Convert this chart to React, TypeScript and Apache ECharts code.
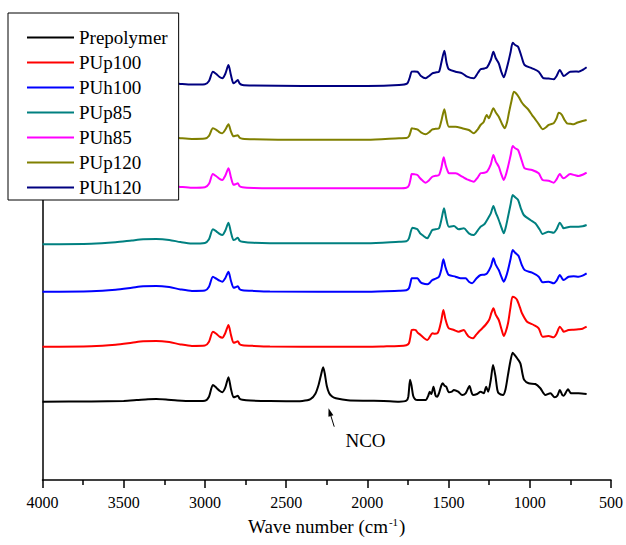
import React, { useEffect, useRef } from "react";
import * as echarts from "echarts";

// Series names and colours
const seriesNames = ["Prepolymer", "PUp100", "PUh100", "PUp85", "PUh85", "PUp120", "PUh120"];
const seriesColors = ["#000000", "#FF0000", "#0000FF", "#008080", "#FF00FF", "#808000", "#000080"];
// vertical stacking offset of each spectrum (a.u.)
const offsets = [78.3, 133.3, 188.3, 235.7, 291.7, 340.7, 395];

// x ticks
const xMin = 500;
const xMax = 4000;
const xInterval = 500;

// [wavenumber (cm-1), absorbance (a.u.)]
const prepolymer = [[4000,0],[3700,0.2],[3500,0.8],[3420,1.6],[3350,2.4],[3300,2.7],[3240,2.2],[3170,1.2],[3080,0.6],[3000,1],[2975,5],[2951,16.7],[2930,14],[2910,11],[2893,9.5],[2875,14],[2855,24.4],[2840,13],[2824,4.5],[2812,5],[2798,6],[2786,3],[2769,2],[2720,1.2],[2600,0.6],[2500,0.5],[2400,0.8],[2350,2.5],[2320,8],[2300,17],[2285,27],[2272,34.5],[2262,28],[2250,16],[2235,8.5],[2215,5],[2194,3.5],[2120,1.5],[2000,1],[1900,0.8],[1805,0],[1760,1],[1748,5],[1737,22],[1728,16],[1718,6],[1706,2.5],[1692,1.7],[1641,1.7],[1625,6],[1616,10],[1606,7.7],[1593,15],[1580,6],[1570,5],[1559,8.4],[1545,16],[1536,18.4],[1525,16],[1514,15],[1498,9.4],[1480,10],[1467,11.7],[1441,10],[1416,6.7],[1395,8.4],[1378,14],[1371,15.7],[1360,10],[1350,6.7],[1324,7.7],[1303,10],[1283,8.4],[1269,15],[1256,10],[1240,22],[1226,36.7],[1212,26],[1200,12],[1191,8.4],[1165,6.7],[1150,12],[1135,26],[1120,40],[1105,49],[1090,46],[1078,43.4],[1058,38.4],[1045,28],[1035,22],[1007,18.4],[966,17.7],[935,13.4],[904,6.7],[873,8.4],[847,4.4],[830,6],[815,11.7],[800,6.7],[792,6],[772,11],[765,12.4],[750,9],[741,8.4],[720,8.4],[700,8.4],[650,7.7]];
const pup100 = [[4000,0],[3700,0.5],[3550,2],[3450,4],[3380,5.5],[3300,5.7],[3220,4.6],[3150,2.3],[3080,0.8],[3000,1.2],[2975,5],[2951,15],[2930,13],[2910,10],[2893,9],[2875,13.5],[2855,21.7],[2840,12],[2824,4],[2812,4.5],[2798,5.5],[2786,2.5],[2769,1.5],[2700,0.8],[2600,0.2],[2200,0],[2000,0],[1900,0.3],[1805,0.7],[1760,1.5],[1744,3.4],[1735,10],[1727,16.7],[1715,17],[1703,16.7],[1690,14],[1672,11.7],[1650,8.5],[1631,6.7],[1615,10],[1600,13.4],[1585,13],[1569,13.4],[1559,16.7],[1545,26],[1532,36.7],[1520,28],[1505,20],[1498,18.4],[1467,16.7],[1437,15],[1406,16.7],[1390,13],[1375,10],[1350,8.4],[1330,12],[1314,15],[1295,18],[1273,21.7],[1250,27],[1236,34],[1224,38.4],[1210,32],[1191,26.7],[1175,18],[1160,10.7],[1148,15],[1134,23.4],[1120,38],[1106,50],[1090,49],[1078,46.7],[1060,39],[1048,33.4],[1017,25],[976,21.7],[945,18.4],[921,10],[884,10.7],[853,9.4],[835,13],[815,20],[800,17],[792,15],[761,16.7],[730,17],[700,17.4],[675,18],[650,20]];
const puh100 = [[4000,0],[3700,0.5],[3550,2],[3450,4],[3380,5.5],[3300,5.7],[3220,4.6],[3150,2.3],[3080,0.8],[3000,1.2],[2975,5],[2951,15],[2930,13],[2910,11],[2893,10],[2875,13.5],[2855,20],[2840,11],[2824,4],[2812,4.5],[2798,5.5],[2786,2.5],[2769,1.5],[2700,0.8],[2600,0.2],[2000,0],[1805,1],[1760,1.5],[1744,3.4],[1733,10],[1727,13.4],[1710,13.5],[1692,13.4],[1675,10],[1662,8.4],[1631,7.4],[1615,9],[1600,11.7],[1580,13],[1559,15],[1545,22],[1532,32.4],[1520,25],[1505,18],[1498,16.7],[1457,15],[1426,13.4],[1395,13.4],[1375,10],[1355,8.4],[1330,13],[1303,16.7],[1280,17],[1263,18.4],[1240,25],[1224,33.4],[1210,27],[1191,21.7],[1175,15],[1160,10],[1148,14],[1134,21.7],[1118,33],[1105,41.7],[1090,39],[1069,35.7],[1050,27],[1032,21.7],[986,19],[945,15],[921,9.4],[884,10],[853,8.4],[835,11],[815,16.7],[800,13],[792,11.7],[761,15],[730,15.5],[700,15],[675,16],[650,18.4]];
const pup85 = [[4000,0],[3700,0.5],[3550,2],[3450,3.8],[3380,5],[3300,5.3],[3220,4.4],[3150,2.2],[3080,0.8],[3000,1.4],[2975,5],[2951,15],[2930,13],[2910,10.5],[2893,9.3],[2875,13.5],[2855,21.6],[2840,12],[2824,4.3],[2812,5],[2798,6.6],[2786,3.5],[2769,2.6],[2700,1.5],[2600,1],[2000,1],[1805,2.6],[1760,3],[1744,6],[1732,13],[1723,16.6],[1708,16],[1692,15],[1675,11],[1662,9.3],[1631,6],[1615,10],[1600,14.3],[1580,15],[1559,16],[1545,24],[1528,36],[1515,26],[1498,17.6],[1467,18.3],[1437,15],[1406,16],[1375,11],[1345,9.3],[1320,14],[1303,17.6],[1280,20],[1263,24.3],[1240,31],[1224,38.3],[1210,32],[1191,24.3],[1175,17],[1160,11],[1148,17],[1134,27.6],[1118,40],[1105,49.3],[1090,47],[1072,44.3],[1055,36],[1037,29.3],[996,24.3],[966,21],[940,15],[921,10.3],[884,12.6],[853,11.6],[835,15],[815,21.6],[800,18],[792,16],[751,17.6],[700,17.6],[675,18],[650,19.3]];
const puh85 = [[4000,0],[3700,0.4],[3550,1.5],[3450,2.5],[3380,3],[3300,3.2],[3220,2.6],[3150,1.4],[3080,0.5],[3000,1],[2975,4.5],[2951,14.3],[2930,12],[2910,9.5],[2893,8.3],[2875,12.5],[2855,20],[2840,11],[2824,3.5],[2812,4],[2798,5],[2786,2],[2769,1],[2700,0.3],[2600,0],[2000,0],[1805,0],[1760,0.5],[1744,3],[1733,10],[1727,14.3],[1710,14],[1692,13.3],[1675,10],[1662,8],[1641,5.6],[1620,8],[1600,11.6],[1580,12.5],[1559,13.3],[1545,20],[1530,31],[1518,23],[1505,17],[1498,15],[1457,15],[1416,11.6],[1386,9],[1345,6.6],[1320,11],[1303,15],[1280,15.5],[1263,16.6],[1240,24],[1224,33.3],[1210,27],[1191,21.6],[1175,14],[1160,8.3],[1148,13],[1134,21.6],[1118,33],[1105,42.3],[1090,40],[1072,38.3],[1050,28],[1032,20],[986,18.3],[945,15],[921,8.3],[884,7.5],[853,5.6],[835,9],[815,14.3],[800,11],[792,10],[751,14.3],[720,13],[700,12.3],[675,13.5],[650,15.6]];
const pup120 = [[4000,0],[3700,0.4],[3550,1.2],[3450,2],[3380,2.5],[3300,2.6],[3220,2.1],[3150,1.1],[3080,0.4],[3000,0.8],[2975,3.5],[2951,11],[2930,9.5],[2910,7],[2893,6],[2875,9.5],[2855,15],[2840,8],[2824,3],[2812,3.5],[2798,4],[2786,1.5],[2769,0.5],[2700,0],[2400,-0.5],[2000,-0.5],[1805,1],[1760,1.2],[1744,3],[1733,8],[1727,11],[1710,10.5],[1692,10],[1670,7],[1641,5],[1620,7],[1600,10],[1580,10.5],[1559,11],[1545,18],[1526,30],[1512,19],[1498,12.6],[1457,12.6],[1416,11],[1375,9.3],[1345,6],[1320,10],[1303,14.3],[1285,17],[1265,24.3],[1252,21],[1238,26],[1224,31],[1210,27],[1191,22.6],[1170,15],[1154,11],[1140,17],[1129,26],[1113,38],[1098,47.6],[1085,46],[1069,42.6],[1050,37],[1037,34.3],[1007,29.3],[985,24],[966,20],[940,14],[921,10],[900,12],[884,14.3],[853,16],[835,21],[822,26.6],[812,26],[802,24.3],[785,19],[771,16],[750,15.5],[730,15],[710,16.5],[690,17.6],[650,19.3]];
const puh120 = [[4000,0],[3700,0.4],[3550,1.2],[3450,2],[3380,2.5],[3300,2.6],[3220,2.1],[3150,1.1],[3080,0.4],[3000,0.8],[2975,4],[2951,13.3],[2930,11],[2910,8],[2893,6.7],[2875,11],[2855,20],[2840,10],[2824,1.7],[2812,3],[2798,5],[2786,1.5],[2769,0],[2700,-0.5],[2400,-1],[2000,-1],[1805,0],[1754,1.7],[1740,7],[1727,13.3],[1710,13.5],[1692,13.3],[1670,9],[1641,6.7],[1620,9],[1600,11.7],[1580,12.5],[1559,13.3],[1545,22],[1526,34.3],[1512,22],[1498,15.7],[1457,13.3],[1416,11.7],[1386,8.3],[1345,6.7],[1320,12],[1303,15.7],[1280,16.5],[1263,17.7],[1240,25],[1224,33.3],[1210,27],[1191,21.7],[1175,13],[1160,7.7],[1148,13],[1134,21.7],[1118,33],[1105,42.3],[1090,40],[1072,38.3],[1050,28],[1032,20],[986,16.7],[945,13.3],[914,6.7],[884,6.5],[853,5.7],[835,9],[815,15],[800,11],[792,9],[751,13.3],[720,13.5],[700,13.3],[675,15],[650,17.7]];

const spectra = [prepolymer, pup100, puh100, pup85, puh85, pup120, puh120];

// NCO annotation: arrow tail / head and label anchor, in [wavenumber, stacked absorbance]
const ncoArrowTail = [2204, 53.3];
const ncoArrowHead = [2239, 71.7];
const ncoLabelAnchor = [2135, 40];
const ncoLabel = "NCO";

const FONT = "'Liberation Serif', 'Times New Roman', serif";

export default function App() {
  const ref = useRef<HTMLDivElement>(null);
  useEffect(() => {
    if (!ref.current) return;
    document.body.style.margin = "0";
    const chart = echarts.init(ref.current, null, { renderer: "svg" });
    const series = spectra.map((s, i) => ({
      name: seriesNames[i],
      type: "line",
      data: s.map((p) => [p[0], p[1] + offsets[i]]),
      symbol: "none",
      smooth: 0.25,
      lineStyle: { color: seriesColors[i], width: 2 },
      itemStyle: { color: seriesColors[i] },
      z: 2,
    }));
    chart.setOption({
      animation: false,
      backgroundColor: "#ffffff",
      grid: { left: 42.5, right: 13.5, top: 20, bottom: 65, containLabel: false },
      legend: {
        data: seriesNames,
        orient: "vertical",
        left: 8,
        top: 13,
        padding: [15, 11, 3, 18],
        itemWidth: 47,
        itemHeight: 14,
        itemGap: 6,
        backgroundColor: "#ffffff",
        borderColor: "#000000",
        borderWidth: 1,
        borderRadius: 0,
        itemStyle: { opacity: 0, borderWidth: 0 },
        textStyle: { fontFamily: FONT, fontSize: 19, color: "#000", lineHeight: 19 },
        z: 10,
      },
      xAxis: {
        type: "value",
        min: xMin,
        max: xMax,
        interval: xInterval,
        inverse: true,
        name: "Wave number (cm{sup|-1})",
        nameLocation: "middle",
        nameGap: 36,
        nameTextStyle: {
          fontFamily: FONT,
          fontSize: 19,
          color: "#000",
          rich: {
            sup: { fontFamily: FONT, fontSize: 11, color: "#000", verticalAlign: "top", padding: [0, 1, 9, 1] },
          },
        },
        axisLine: { show: true, lineStyle: { color: "#000", width: 1.5 } },
        axisTick: { show: true, inside: false, length: 8, lineStyle: { color: "#000", width: 1.5 } },
        minorTick: { show: true, splitNumber: 2, length: 5, lineStyle: { color: "#000", width: 1.5 } },
        axisLabel: {
          fontFamily: FONT,
          fontSize: 16,
          color: "#000",
          margin: 14,
          formatter: (v: number) => String(v),
        },
        splitLine: { show: false },
      },
      yAxis: {
        type: "value",
        min: 0,
        max: 460,
        axisLine: { show: true, onZero: false, lineStyle: { color: "#000", width: 1.5 } },
        axisTick: { show: false },
        axisLabel: { show: false },
        splitLine: { show: false },
      },
      series,
    });

    // NCO annotation placed through the chart's own scales
    const t = chart.convertToPixel({ gridIndex: 0 }, ncoArrowTail) as number[];
    const h = chart.convertToPixel({ gridIndex: 0 }, ncoArrowHead) as number[];
    const l = chart.convertToPixel({ gridIndex: 0 }, ncoLabelAnchor) as number[];
    const dx = h[0] - t[0];
    const dy = h[1] - t[1];
    const len = Math.sqrt(dx * dx + dy * dy) || 1;
    const ux = dx / len;
    const uy = dy / len;
    const headLen = 8;
    const headHalf = 2.6;
    const bx = h[0] - ux * headLen;
    const by = h[1] - uy * headLen;
    chart.setOption({
      graphic: [
        {
          type: "line",
          shape: { x1: t[0], y1: t[1], x2: bx, y2: by },
          style: { stroke: "#000", lineWidth: 1 },
          z: 20,
        },
        {
          type: "polygon",
          shape: {
            points: [
              [h[0], h[1]],
              [bx - uy * headHalf, by + ux * headHalf],
              [bx + uy * headHalf, by - ux * headHalf],
            ],
          },
          style: { fill: "#000" },
          z: 20,
        },
        {
          type: "text",
          x: l[0],
          y: l[1],
          style: { text: ncoLabel, font: `19px ${FONT}`, fill: "#000", textVerticalAlign: "middle" },
          z: 20,
        },
      ],
    });
    return () => chart.dispose();
  }, []);
  return <div ref={ref} style={{ width: 626, height: 545 }} />;
}
